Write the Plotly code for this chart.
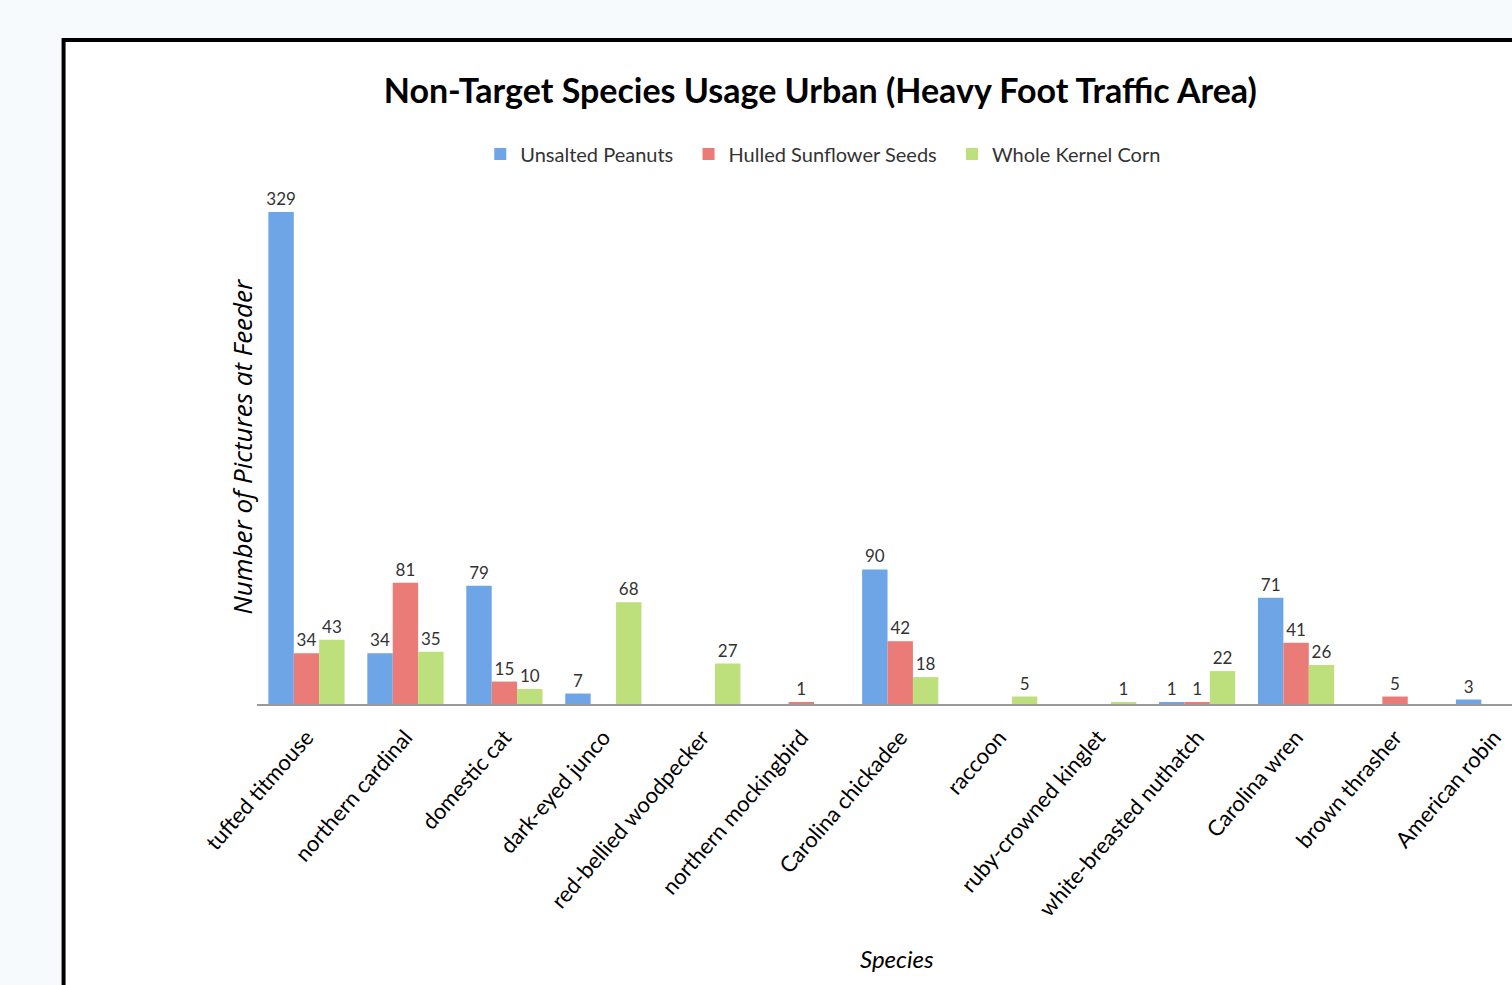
import plotly.graph_objects as go

species = ["tufted titmouse", "northern cardinal", "domestic cat", "dark-eyed junco",
           "red-bellied woodpecker", "northern mockingbird", "Carolina chickadee", "raccoon",
           "ruby-crowned kinglet", "white-breasted nuthatch", "Carolina wren", "brown thrasher",
           "American robin"]
peanuts = [329, 34, 79, 7, 0, 0, 90, 0, 0, 1, 71, 0, 3]
sunflower = [34, 81, 15, 0, 0, 1, 42, 0, 0, 1, 41, 5, 0]
corn = [43, 35, 10, 68, 27, 0, 18, 5, 1, 22, 26, 0, 0]

series = [
    ("Unsalted Peanuts\u00a0\u00a0", peanuts, "#6ea5e6"),
    ("Hulled Sunflower Seeds\u00a0\u00a0", sunflower, "#ea7b77"),
    ("Whole Kernel Corn", corn, "#bde07c"),
]

W, H = 1512, 985
L, R, T, B = 256.5, 1512, 180, 704

def px_x(p):
    return (p - L) / (R - L)

def px_y(p):
    return (B - p) / (B - T)

FONT = "Lato, sans-serif"

fig = go.Figure()
for name, vals, col in series:
    fig.add_trace(go.Bar(
        x=list(range(len(species))), y=vals, name=name,
        marker=dict(color=col, line=dict(width=0)),
        text=[str(v) if v else "" for v in vals],
        textposition="outside", cliponaxis=False, constraintext="none",
        textfont=dict(family=FONT, size=17, color="#333333"),
    ))

fig.add_shape(type="rect", xref="paper", yref="paper",
              x0=px_x(63), x1=px_x(1530), y0=px_y(1010), y1=px_y(40),
              line=dict(color="black", width=4), fillcolor="white", layer="below")

fig.update_layout(
    width=W, height=H,
    margin=dict(l=L, r=W - R, t=T, b=H - B, autoexpand=False),
    paper_bgcolor="#f6fafc", plot_bgcolor="rgba(0,0,0,0)",
    barmode="group", bargap=0.23, bargroupgap=0,
    title=dict(text="<b>Non-Target Species Usage Urban (Heavy Foot Traffic Area)</b>",
               x=px_x(820), xref="paper", xanchor="center",
               y=1 - 91 / H, yref="container", yanchor="middle",
               font=dict(family=FONT, size=34, color="black")),
    legend=dict(orientation="h", x=px_x(823), xanchor="center", y=px_y(154), yanchor="middle",
                font=dict(family=FONT, size=20, color="#333333"),
                bgcolor="rgba(0,0,0,0)", itemwidth=30, traceorder="normal"),
    xaxis=dict(range=[-0.5, (R - L) / 99 - 0.5], tickmode="array",
               tickvals=list(range(len(species))), ticktext=species, tickangle=-49,
               tickfont=dict(family=FONT, size=22, color="black"), ticklabelstandoff=10,
               showline=True, linecolor="#9a9a9a", linewidth=1.5, ticks="",
               showgrid=False, zeroline=False),
    yaxis=dict(range=[0, (B - T) / 1.4955], showticklabels=False, showgrid=False,
               zeroline=False, showline=False, ticks=""),
    annotations=[
        dict(text="<i>Number of Pictures at Feeder</i>", xref="paper", yref="paper",
             x=px_x(241), y=px_y(446), textangle=-90, showarrow=False,
             xanchor="center", yanchor="middle",
             font=dict(family="Open Sans, sans-serif", size=26, color="black")),
        dict(text="<i>Species</i>", xref="paper", yref="paper",
             x=px_x(897), y=px_y(958), showarrow=False, xanchor="center", yanchor="middle",
             font=dict(family=FONT, size=24, color="black")),
    ],
)

fig.write_html("out.html")
